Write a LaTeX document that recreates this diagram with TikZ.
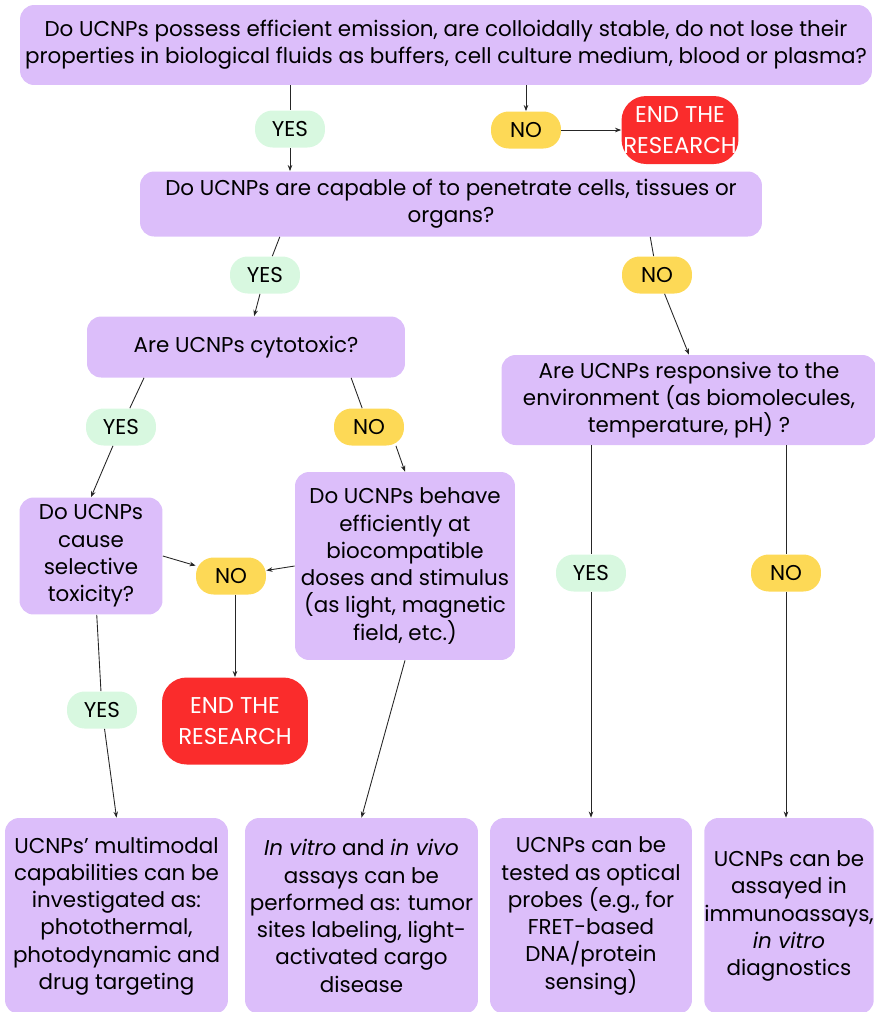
\documentclass[tikz,border=0pt]{standalone}
\usepackage{fontspec}
\setmainfont{Poppins}
\usetikzlibrary{arrows.meta,positioning,calc}
\definecolor{qpurple}{RGB}{220,190,250}
\definecolor{yesgreen}{RGB}{216,248,224}
\definecolor{noyellow}{RGB}{253,217,86}
\definecolor{endred}{RGB}{250,44,44}
\tikzstyle{question} = [rectangle, rounded corners=8pt, fill=qpurple, align=center, inner sep=2pt, font=\fontsize{12.2}{15.5}\selectfont]
\tikzstyle{yesbox} = [rectangle, rounded corners=10pt, fill=yesgreen, minimum width=1.4cm, minimum height=0.74cm, inner sep=1pt, font=\fontsize{12.2}{15.5}\selectfont]
\tikzstyle{nobox} = [yesbox, fill=noyellow]
\tikzstyle{endbox} = [rectangle, rounded corners=14pt, fill=endred, text=white, align=center, inner sep=1pt, font=\fontsize{13}{17.5}\selectfont]
\tikzstyle{link} = [draw=black!85, line width=0.5pt]
\tikzstyle{arrow} = [link, -{Stealth[length=3.5pt,width=2.6pt]}]

\begin{document}
\begin{tikzpicture}[x=0.02cm, y=-0.02cm]
  \useasboundingbox (0,0) rectangle (875,1012);

  % questions
  \node[question, minimum width=17.04cm, minimum height=1.6cm] (q1) at (446,45)
    {Do UCNPs possess efficient emission, are colloidally stable, do not lose their\\properties in biological fluids as buffers, cell culture medium, blood or plasma?};
  \node[question, minimum width=12.44cm, minimum height=1.3cm] (q2) at (451,204)
    {Do UCNPs are capable of to penetrate cells, tissues or\\organs?};
  \node[question, minimum width=6.36cm, minimum height=1.22cm] (q3) at (246,347) {Are UCNPs cytotoxic?};
  \node[question, minimum width=7.5cm, minimum height=1.8cm] (q4) at (689,400)
    {Are UCNPs responsive to the\\environment (as biomolecules,\\temperature, pH) ?};
  \node[question, minimum width=2.86cm, minimum height=2.34cm] (q5) at (91,556)
    {Do UCNPs\\cause\\selective\\toxicity?};
  \node[question, minimum width=4.4cm, minimum height=3.76cm] (q6) at (405,566)
    {Do UCNPs behave\\efficiently at\\biocompatible\\doses and stimulus\\(as light, magnetic\\field, etc.)};

  % answers
  \node[yesbox] (yes1) at (290,129) {YES};
  \node[nobox] (no1) at (526,130) {NO};
  \node[endbox, minimum width=2.32cm, minimum height=1.36cm] (end1) at (680,130) {END THE\\RESEARCH};
  \node[yesbox] (yes2) at (265,275) {YES};
  \node[nobox] (no2) at (657,275) {NO};
  \node[yesbox] (yes3) at (121,427) {YES};
  \node[nobox] (no3) at (369,427) {NO};
  \node[nobox] (no4) at (231,576) {NO};
  \node[endbox, minimum width=2.92cm, minimum height=1.74cm] (end2) at (235,721) {END THE\\RESEARCH};
  \node[yesbox] (yes4) at (102,710) {YES};
  \node[yesbox] (yes5) at (591,573) {YES};
  \node[nobox] (no5) at (786,573) {NO};

  % results
  \node[question, minimum width=4.46cm, minimum height=3.92cm] (r1) at (116.5,916)
    {UCNPs’ multimodal\\capabilities can be\\investigated as:\\photothermal,\\photodynamic and\\drug targeting};
  \node[question, minimum width=4.66cm, minimum height=3.92cm] (r2) at (361.5,916)
    {\textit{In vitro} and \textit{in vivo}\\assays can be\\performed as: tumor\\sites labeling, light-\\activated cargo\\disease};
  \node[question, minimum width=4.04cm, minimum height=3.92cm] (r3) at (591,916)
    {UCNPs can be\\tested as optical\\probes (e.g., for\\FRET-based\\DNA/protein\\sensing)};
  \node[question, inner xsep=0pt, minimum width=3.32cm, minimum height=3.92cm] (r4) at (789,916)
    {UCNPs can be\\assayed in\\immunoassays,\\\textit{in vitro}\\diagnostics};

  % connectors
  \draw[link] (yes1 |- q1.south) -- (yes1);
  \draw[arrow] (yes1) -- (yes1 |- q2.north);
  \draw[arrow] (no1 |- q1.south) -- (no1);
  \draw[arrow] (no1) -- (end1);

  \draw[link] ($(q2.south west)!0.225!(q2.south east)$) -- (yes2);
  \draw[arrow] (yes2) -- (q3);
  \draw[link] ($(q2.south west)!0.82!(q2.south east)$) -- (no2);
  \draw[arrow] (no2) -- (q4.north);

  \draw[link] ($(q3.south west)!0.18!(q3.south east)$) -- (yes3);
  \draw[arrow] (yes3) -- (q5.north);
  \draw[link] ($(q3.south west)!0.83!(q3.south east)$) -- (no3);
  \draw[arrow] (no3.325) -- (q6.north);

  \draw[arrow] (q5.east) -- (no4);
  \draw[arrow] (q6.west) -- (no4);
  \draw[arrow] (end2 |- no4.south) -- (end2);
  \draw[link] ($(q5.south west)!0.54!(q5.south east)$) -- (yes4);
  \draw[arrow] (yes4) -- (r1.north);
  \draw[arrow] (q6.south) -- (r2.north);

  \draw[link] (yes5 |- q4.south) -- (yes5);
  \draw[arrow] (yes5) -- (yes5 |- r3.north);
  \draw[link] (no5 |- q4.south) -- (no5);
  \draw[arrow] (no5) -- (no5 |- r4.north);
\end{tikzpicture}
\end{document}
